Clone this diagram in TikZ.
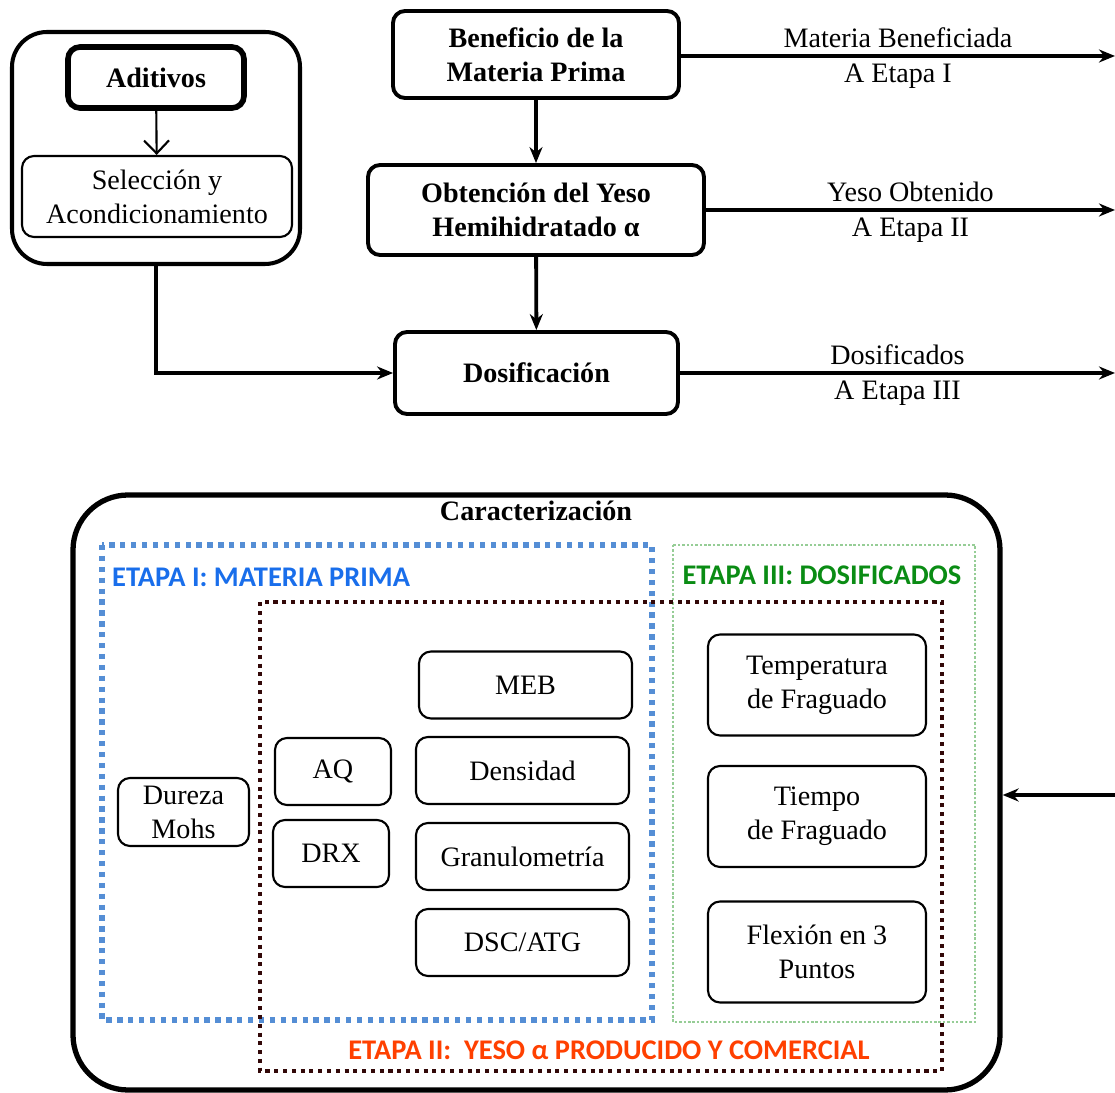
\documentclass[tikz,border=0pt]{standalone}
\usepackage{fontspec}
\setmainfont{Liberation Serif}
\newfontfamily\etapafont{Carlito}
\usetikzlibrary{arrows.meta}
\definecolor{azuletapa}{RGB}{85,142,213}
\definecolor{azultexto}{RGB}{25,110,235}
\definecolor{rojoetapa}{RGB}{50,8,8}
\definecolor{rojotexto}{RGB}{255,64,0}
\definecolor{verdeetapa}{RGB}{150,205,150}
\definecolor{verdetexto}{RGB}{10,140,20}
\begin{document}
\begin{tikzpicture}[>={Stealth[length=3.2mm, width=2.6mm]},
  every node/.style={font=\fontsize{16}{19.3}\selectfont, align=center},
  proceso/.style={draw, rounded corners=0.24cm, line width=2.2pt, font=\fontsize{16}{19.3}\selectfont\bfseries},
  ensayo/.style={draw, rounded corners=0.24cm, line width=1.2pt},
  flecha/.style={->, line width=2.2pt}]
\useasboundingbox (0,0) rectangle (22.3,-21.86);

% grupo de aditivos
\node[draw, rounded corners=0.7cm, line width=2.3pt, minimum width=5.76cm, minimum height=4.64cm] (grupo) at (3.12,-2.96) {};
\node[draw, rounded corners=0.24cm, line width=3.2pt, minimum width=3.52cm, minimum height=1.22cm, font=\fontsize{16}{19.3}\selectfont\bfseries] (aditivos) at (3.12,-1.55) {Aditivos};
\node[ensayo, minimum width=5.4cm, minimum height=1.62cm] (seleccion) at (3.14,-3.93) {Selección y\\Acondicionamiento};

% etapas de proceso
\node[proceso, minimum width=5.72cm, minimum height=1.74cm] (benef) at (10.72,-1.09) {Beneficio de la\\Materia Prima};
\node[proceso, minimum width=6.72cm, minimum height=1.8cm] (obten) at (10.72,-4.2) {Obtención del Yeso\\Hemihidratado α};
\node[proceso, minimum width=5.66cm, minimum height=1.64cm] (dosif) at (10.73,-7.46) {Dosificación};

\coordinate (salida1) at (22.3,-1.12);
\coordinate (salida2) at (22.3,-4.2);
\coordinate (salida3) at (22.3,-7.46);

\draw[-{Straight Barb[length=2.6mm, width=5mm]}, line width=1.2pt] (aditivos) -- (seleccion);
\draw[flecha] (benef) -- (obten);
\draw[flecha] (obten) -- (dosif);
\draw[->, line width=1.9pt] (grupo.south) |- (dosif.west);
\draw[flecha] (benef.east |- salida1) -- (salida1)
  node[midway, above] {Materia Beneficiada} node[midway, below] {A Etapa I};
\draw[flecha] (obten) -- (salida2)
  node[midway, above] {Yeso Obtenido} node[midway, below] {A Etapa II};
\draw[flecha] (dosif) -- (salida3)
  node[midway, above] {Dosificados} node[midway, below] {A Etapa III};

% caracterizacion
\node[draw, rounded corners=1.1cm, line width=3pt, minimum width=18.54cm, minimum height=11.9cm] (caract) at (10.73,-15.85) {};
\node[font=\fontsize{16}{19.3}\selectfont\bfseries] (titulo) at (10.72,-10.22) {Caracterización};
\coordinate (entrada) at (22.3,-15.9);
\draw[flecha] (entrada) -- (caract.east |- entrada);

% zonas de etapas
\draw[azuletapa, line width=3pt, dash pattern=on 3pt off 3.2pt] (2.04,-10.9) rectangle (13.04,-20.4);
\draw[verdeetapa, line width=0.8pt, dash pattern=on 1.4pt off 1.1pt] (13.46,-10.9) rectangle (19.5,-20.44);
\draw[rojoetapa, line width=2.4pt, dash pattern=on 2.3pt off 2.7pt] (5.2,-12.04) rectangle (18.84,-21.42);
\node[anchor=west, text=azultexto, font=\etapafont\fontsize{16.2}{19}\selectfont\bfseries] (etapa1) at (2.12,-11.54) {ETAPA I: MATERIA PRIMA};
\node[text=rojotexto, font=\etapafont\fontsize{16.2}{19}\selectfont\bfseries] (etapa2) at (12.18,-21.0) {ETAPA II:\ \ YESO α PRODUCIDO Y COMERCIAL};
\node[text=verdetexto, font=\etapafont\fontsize{16.2}{19}\selectfont\bfseries] (etapa3) at (16.44,-11.5) {ETAPA III: DOSIFICADOS};

% ensayos
\node[ensayo, minimum width=2.62cm, minimum height=1.36cm] (dureza) at (3.67,-16.24) {Dureza\\Mohs};
\node[ensayo, minimum width=2.32cm, minimum height=1.34cm] (aq) at (6.66,-15.43) {AQ};
\node[ensayo, minimum width=2.32cm, minimum height=1.34cm] (drx) at (6.62,-17.07) {DRX};
\node[ensayo, minimum width=4.26cm, minimum height=1.34cm] (meb) at (10.51,-13.7) {MEB};
\node[ensayo, minimum width=4.26cm, minimum height=1.34cm] (dens) at (10.45,-15.41) {Densidad};
\node[ensayo, minimum width=4.26cm, minimum height=1.34cm] (gran) at (10.45,-17.13) {Granulometría};
\node[ensayo, minimum width=4.26cm, minimum height=1.34cm] (dsc) at (10.45,-18.85) {DSC/ATG};
\node[ensayo, minimum width=4.36cm, minimum height=2.02cm] (temp) at (16.34,-13.7) {Temperatura\\de Fraguado};
\node[ensayo, minimum width=4.36cm, minimum height=2.02cm] (tiempo) at (16.34,-16.33) {Tiempo\\de Fraguado};
\node[ensayo, minimum width=4.36cm, minimum height=2.02cm] (flexion) at (16.34,-19.04) {Flexión en 3\\Puntos};
\end{tikzpicture}
\end{document}
